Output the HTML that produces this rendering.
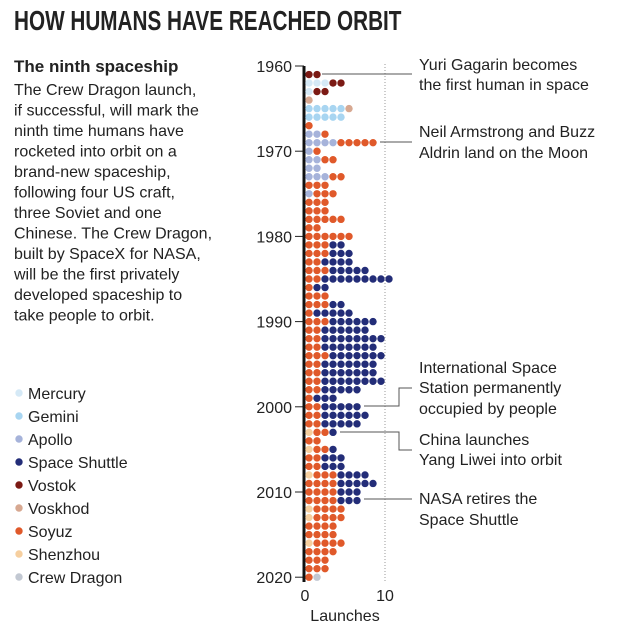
<!DOCTYPE html>
<html><head><meta charset="utf-8"><style>
body{margin:0;background:#fff;width:620px;height:632px;overflow:hidden}
svg{display:block}
text{font-family:"Liberation Sans",sans-serif;fill:#222}
</style></head><body>
<svg id="chart" width="620" height="632" viewBox="0 0 620 632">
<text x="14" y="30" font-size="28" font-weight="bold" transform="translate(14,0) scale(0.74,1) translate(-14,0)" fill="#111">HOW HUMANS HAVE REACHED ORBIT</text>
<text x="14" y="72" font-size="17" font-weight="bold" fill="#111">The ninth spaceship</text>
<g id="body" font-size="16"></g>
<g id="legend"></g>
<g id="axes"></g>
<g id="dots"></g>
<g id="ann"></g>
</svg>
<script>
const years = Array.from({length:60},(_,i)=>1961+i);
const seriesNames = ["Mercury","Gemini","Apollo","Shenzhou","Soyuz","Space Shuttle","Vostok","Voskhod","Crew Dragon"];
const seriesColors = ["#d5e9f6","#a8d5f1","#a6b3da","#f6cf9f","#e0592a","#232d78","#7b1a14","#d7a891","#c2c8d2"];
const mercury = {1962:3,1963:1};
const gemini = {1965:5,1966:5};
const apollo = {1968:2,1969:4,1970:1,1971:2,1972:2,1973:3,1975:1};
const shenzhou = {2003:1,2005:1,2008:1,2012:1,2013:1,2016:1};
const soyuz = {1967:1,1968:1,1969:5,1970:1,1971:2,1973:2,1974:3,1975:3,1976:3,1977:3,1978:5,1979:2,1980:6,1981:3,1982:3,1983:2,1984:3,1985:2,1986:1,1987:3,1988:3,1989:1,1990:3,1991:2,1992:2,1993:2,1994:3,1995:2,1996:2,1997:2,1998:2,1999:1,2000:2,2001:2,2002:2,2003:2,2004:2,2005:2,2006:2,2007:2,2008:3,2009:4,2010:4,2011:4,2012:4,2013:4,2014:4,2015:4,2016:4,2017:4,2018:3,2019:3,2020:1};
const shuttle = {1981:2,1982:3,1983:4,1984:5,1985:9,1986:2,1988:2,1989:5,1990:6,1991:6,1992:8,1993:7,1994:7,1995:7,1996:7,1997:8,1998:5,1999:3,2000:5,2001:6,2002:5,2003:1,2005:1,2006:3,2007:3,2008:4,2009:5,2010:3,2011:3};
const vostok = {1961:2,1962:2,1963:2};
const voskhod = {1964:1,1965:1};
const crewDragon = {2020:1};
const yTicks = [1960,1970,1980,1990,2000,2010,2020];
const xTicks = [0,10];
const bodyLines = ["The Crew Dragon launch,","if successful, will mark the","ninth time humans have","rocketed into orbit on a","brand-new spaceship,","following four US craft,","three Soviet and one","Chinese. The Crew Dragon,","built by SpaceX for NASA,","will be the first privately","developed spaceship to","take people to orbit."];
const series = [mercury,gemini,apollo,shenzhou,soyuz,shuttle,vostok,voskhod,crewDragon];

const NS="http://www.w3.org/2000/svg";
function yS(yr){return 66+(yr-1960)*8.52;}
function xS(n){return 305+n*8;}
function mk(tag,attrs,parent,txt){const e=document.createElementNS(NS,tag);for(const k in attrs)e.setAttribute(k,attrs[k]);if(txt!==undefined)e.textContent=txt;parent.appendChild(e);return e;}

const body=document.getElementById('body');
bodyLines.forEach((l,i)=>{const t=mk('text',{x:14,y:95+i*20.5},body,l);

});

const leg=document.getElementById('legend');
const legOrder=[0,1,2,5,6,7,4,3,8];
legOrder.forEach((si,i)=>{const y=393+i*23;
const c=mk('circle',{cx:19,cy:y,r:3.7,fill:seriesColors[si]},leg);


const t=mk('text',{x:28,y:y+6,'font-size':16},leg,seriesNames[si]);

});

const ax=document.getElementById('axes');
const dl=mk('line',{x1:xS(10),x2:xS(10),y1:64,y2:582,stroke:'#999','stroke-dasharray':'1,2'},ax);


yTicks.forEach(yr=>{const y=yS(yr);
const tk=mk('line',{x1:295,x2:304,y1:y,y2:y,stroke:'#222','stroke-width':1},ax);


const t=mk('text',{x:292,y:y+6,'font-size':16,'text-anchor':'end'},ax,String(yr));

});
const yl=mk('line',{x1:304,x2:304,y1:yS(1960),y2:582,stroke:'#111','stroke-width':3},ax);


xTicks.forEach(v=>{const t=mk('text',{x:xS(v),y:601,'font-size':16,'text-anchor':'middle'},ax,String(v));

});
const xt=mk('text',{x:345,y:621,'font-size':16,'text-anchor':'middle'},ax,'Launches');



const dots=document.getElementById('dots');
years.forEach(yr=>{let n=0;
series.forEach((s,si)=>{const c=s[yr]||0;for(let k=0;k<c;k++){
const d=mk('circle',{cx:xS(n)+4,cy:yS(yr),r:3.7,fill:seriesColors[si]},dots);


n++;}});});

const ann=document.getElementById('ann');
function pl(pts){const p=mk('polyline',{points:pts,fill:'none',stroke:'#555','stroke-width':1},ann);

}
function tx(x,y,s){const t=mk('text',{x:x,y:y,'font-size':16},ann,s);

}
pl('322,74 412,74');tx(419,70,'Yuri Gagarin becomes');tx(419,90,'the first human in space');
pl('380,142 412,142');tx(419,137,'Neil Armstrong and Buzz');tx(419,158,'Aldrin land on the Moon');
pl('364,406 399,406 399,388 412,388');tx(419,373,'International Space');tx(419,393,'Station permanently');tx(419,414,'occupied by people');
pl('340,432 399,432 399,450 412,450');tx(419,445,'China launches');tx(419,465,'Yang Liwei into orbit');
pl('364,499 412,499');tx(419,504,'NASA retires the');tx(419,525,'Space Shuttle');
</script>
</body></html>
